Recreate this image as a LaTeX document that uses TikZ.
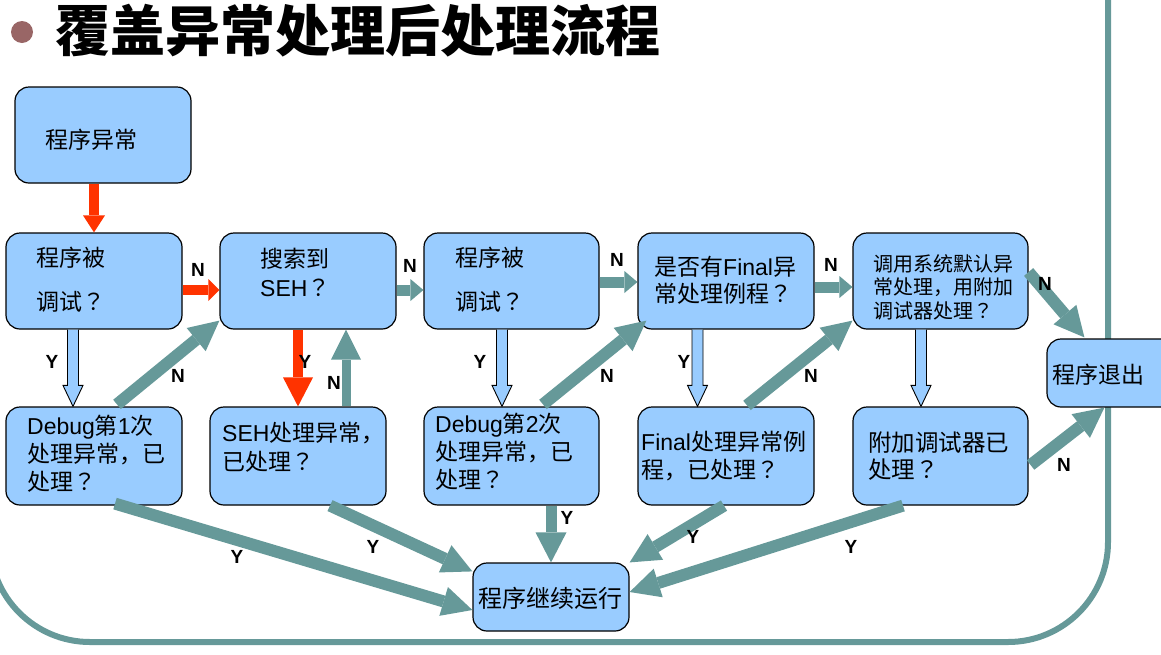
\documentclass[tikz,border=0pt]{standalone}
\usepackage{fontspec}
\setmainfont{Noto Sans CJK SC}
\newfontfamily\lat{Liberation Sans}
\newfontfamily\cjktc{Noto Sans CJK TC}
\newcommand\qm{{\cjktc ？}}
\usetikzlibrary{arrows.meta,calc}
\definecolor{tealc}{RGB}{102,153,153}
\definecolor{redc}{RGB}{255,51,0}
\definecolor{boxblue}{RGB}{153,204,255}
\definecolor{bulletc}{RGB}{153,102,102}
\newcommand\myfs[2]{\fontsize{#1}{#2}\selectfont}
\newcommand\hollowarr[2]{\draw[hollow] ($(#1)+(-5.5,0)$) -- ($(#2)+(-5.5,21)$) -- ($(#2)+(-10,21)$) -- (#2) -- ($(#2)+(10,21)$) -- ($(#2)+(5.5,21)$) -- ($(#1)+(5.5,0)$);}
\begin{document}
\begin{tikzpicture}[x=1pt,y=1pt,
  box/.style={draw=black, line width=1.2pt, fill=boxblue, rounded corners=14pt, inner sep=0pt, minimum width=176pt, minimum height=96pt},
  txt/.style={anchor=west, inner sep=0pt, align=left, text=black},
  arr/.style n args={4}{draw=#1, line width=#2, -{Triangle[width=#3,length=#4,line width=0pt]}},
  hollow/.style={draw=black, line width=0.9pt, fill=boxblue, line join=miter},
  lbl/.style={font=\lat\bfseries\myfs{19}{19}, inner sep=0pt, text=black}
]
\useasboundingbox (0,0) rectangle (1161,-654);
% frame
\draw[tealc, line width=6pt, rounded corners=100pt] (-10,150) rectangle (1108,-642);
% title
\node[circle, fill=bulletc, inner sep=0pt, minimum size=22pt] (bullet) at (22,-32) {};
\node[anchor=west, inner sep=0pt, font=\bfseries\myfs{55}{55}] (title) at (55,-31) {覆盖异常处理后处理流程};
% boxes
\node[box] (ex) at (103,-135) {};
\node[box] (q1) at (94,-281) {};
\node[box] (seh) at (308,-281) {};
\node[box, minimum width=175pt] (q2) at (511.5,-281) {};
\node[box] (fin) at (726,-281) {};
\node[box, minimum width=175pt] (sys) at (940.5,-281) {};
\node[box, minimum height=98pt] (d1) at (94,-456) {};
\node[box, minimum height=98pt] (sehh) at (298,-456) {};
\node[box, minimum width=175pt, minimum height=98pt] (d2) at (511.5,-456) {};
\node[box, minimum height=98pt] (finh) at (726,-456) {};
\node[box, minimum width=175pt, minimum height=98pt] (att) at (940.5,-456) {};
\node[box, minimum width=130pt, minimum height=68pt] (exit) at (1112,-373) {};
\node[box, minimum width=156pt, minimum height=68pt] (cont) at (551,-597) {};
% texts
\node[txt, font=\myfs{23}{28}] (tex) at (45,-140) {程序异常};
\node[txt, font=\myfs{23}{44}] (tq1) at (36,-280) {程序被\\调试\qm};
\node[txt, font=\myfs{23}{29}] (tseh) at (260,-272.5) {搜索到\\{\lat SEH}\qm};
\node[txt, font=\myfs{23}{44}] (tq2) at (455,-280) {程序被\\调试\qm};
\node[txt, font=\myfs{23}{27}] (tfin) at (654,-280) {是否有{\lat Final}异\\常处理例程\qm};
\node[txt, font=\myfs{20}{23.5}] (tsys) at (873,-287) {调用系统默认异\\常处理，用附加\\调试器处理\qm};
\node[txt, font=\myfs{23}{28}] (td1) at (27,-454) {{\lat Debug}第{\lat 1}次\\处理异常，已\\处理\qm};
\node[txt, font=\myfs{23}{29}] (tsehh) at (222,-447.5) {{\lat SEH}处理异常，\\已处理\qm};
\node[txt, font=\myfs{23}{28}] (td2) at (435,-452) {{\lat Debug}第{\lat 2}次\\处理异常，已\\处理\qm};
\node[txt, font=\myfs{23}{28}] (tfinh) at (641,-456) {{\lat Final}处理异常例\\程，已处理\qm};
\node[txt, font=\myfs{23.5}{27}] (tatt) at (868,-456.5) {附加调试器已\\处理\qm};
\node[txt, font=\myfs{23}{28}] (texit) at (1052,-375) {程序退出};
\node[txt, font=\myfs{24}{28}] (tcont) at (478,-598) {程序继续运行};
% hollow down arrows
\coordinate (h1a) at ([xshift=-21pt]q1.south);
\coordinate (h1b) at ([xshift=-21pt]d1.north);
\coordinate (h2a) at ([xshift=-9.5pt]q2.south);
\coordinate (h2b) at ([xshift=-9.5pt]d2.north);
\coordinate (h3a) at ([xshift=-28.5pt]fin.south);
\coordinate (h3b) at ([xshift=-28.5pt]finh.north);
\coordinate (h4a) at ([xshift=-19.5pt]sys.south);
\coordinate (h4b) at ([xshift=-19.5pt]att.north);
\hollowarr{h1a}{h1b}
\hollowarr{h2a}{h2b}
\hollowarr{h3a}{h3b}
\hollowarr{h4a}{h4b}
% red arrows
\draw[arr={redc}{10pt}{22pt}{17pt}] (q1.north |- ex.south) -- (q1.north);
\draw[arr={redc}{10pt}{22pt}{11pt}] ([yshift=-9pt]q1.east) -- ([yshift=-9pt]seh.west);
\draw[arr={redc}{10pt}{30pt}{29pt}] (sehh.north |- seh.south) -- (sehh.north);
% teal horizontal arrows
\draw[arr={tealc}{11pt}{22pt}{13pt}] ([yshift=-9pt]seh.east) -- ([yshift=-9pt]q2.west);
\draw[arr={tealc}{11pt}{22pt}{13pt}] ([yshift=-1pt]q2.east) -- ([yshift=-1pt]fin.west);
\draw[arr={tealc}{11pt}{22pt}{13pt}] ([yshift=-6pt]fin.east) -- ([yshift=-6pt]sys.west);
% teal up arrow
\draw[arr={tealc}{9pt}{30pt}{30pt}] ([xshift=48pt]sehh.north) -- ([xshift=38pt]seh.south);
% teal diagonal arrows
\draw[arr={tealc}{12pt}{30pt}{30pt}] ([xshift=23pt,yshift=2pt]d1.north) -- ([yshift=9pt]seh.south west);
\draw[arr={tealc}{12pt}{30pt}{30pt}] ([xshift=31.5pt,yshift=2pt]d2.north) -- ([xshift=9pt,yshift=9pt]fin.south west);
\draw[arr={tealc}{12pt}{30pt}{30pt}] ([xshift=21pt,yshift=1pt]finh.north) -- ([yshift=9pt]sys.south west);
\draw[arr={tealc}{12pt}{30pt}{30pt}] ([yshift=9pt]sys.east) -- ([xshift=38pt,yshift=1pt]exit.north west);
\draw[arr={tealc}{12pt}{30pt}{30pt}] ([xshift=2pt,yshift=-9pt]att.east) -- ([xshift=58pt]exit.south west);
% to cont
\draw[arr={tealc}{12pt}{30pt}{30pt}] ([xshift=21pt,yshift=2pt]d1.south) -- ([yshift=-13pt]cont.west);
\draw[arr={tealc}{12pt}{30pt}{30pt}] ([xshift=32pt]sehh.south) -- ([yshift=-9pt]cont.north west);
\draw[arr={tealc}{11pt}{31pt}{30pt}] (cont.north |- d2.south) -- (cont.north);
\draw[arr={tealc}{12pt}{30pt}{30pt}] ([xshift=-2pt]finh.south) -- (cont.north east);
\draw[arr={tealc}{12pt}{30pt}{30pt}] ([xshift=-37.5pt]att.south) -- ([yshift=5pt]cont.east);
% labels
\node[lbl] (n1) at (198,-270) {N};
\node[lbl] (n2) at (410,-266) {N};
\node[lbl] (n3) at (617,-260) {N};
\node[lbl] (n4) at (831,-265) {N};
\node[lbl] (n5) at (1045,-284) {N};
\node[lbl] (n6) at (1064,-465) {N};
\node[lbl] (n7) at (178,-376) {N};
\node[lbl] (n8) at (334,-383) {N};
\node[lbl] (n9) at (607,-376) {N};
\node[lbl] (n10) at (811,-376) {N};
\node[lbl] (y1) at (52,-362) {Y};
\node[lbl] (y2) at (305,-362) {Y};
\node[lbl] (y3) at (480,-362) {Y};
\node[lbl] (y4) at (684,-362) {Y};
\node[lbl] (y5) at (237,-557) {Y};
\node[lbl] (y6) at (373,-547) {Y};
\node[lbl] (y7) at (567,-518) {Y};
\node[lbl] (y8) at (693,-537) {Y};
\node[lbl] (y9) at (851,-547) {Y};
\end{tikzpicture}
\end{document}
